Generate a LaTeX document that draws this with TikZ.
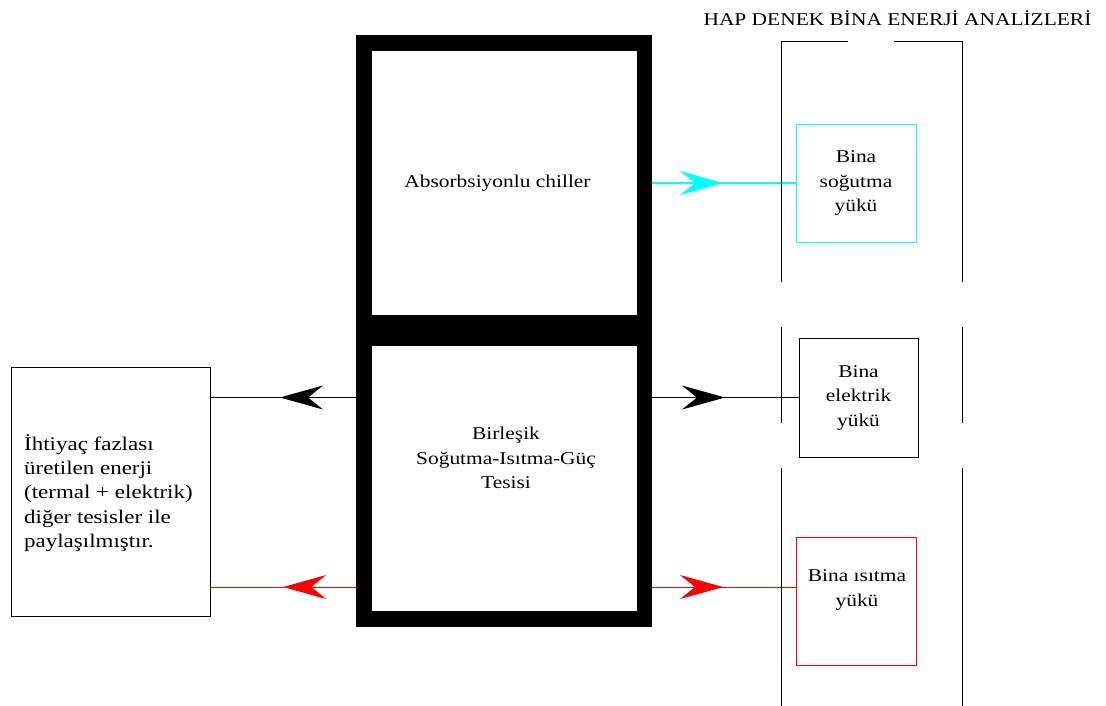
\documentclass[tikz,border=0pt]{standalone}
\usepackage{fontspec}
\setmainfont{Liberation Serif}[FakeStretch=1.19]
\usetikzlibrary{arrows.meta,decorations.markings,backgrounds}
\definecolor{aqua}{RGB}{0,255,255}
\definecolor{pure red}{RGB}{255,0,0}
\begin{document}
\begin{tikzpicture}[x=1pt,y=-1pt,
  txt/.style={font=\fontsize{18}{24.5}\selectfont, inner sep=0pt, align=center},
  bigtxt/.style={font=\fontsize{19.3}{24.3}\selectfont, inner sep=0pt, align=left},
  frame/.style={draw=black, line width=15.5pt, inner sep=0pt, minimum width=280.5pt},
  load/.style={draw=#1, line width=0.9pt, inner sep=0pt, minimum width=120pt},
  flow/.style={draw=#1, line width=1pt},
  tipat/.style={postaction={decorate}, decoration={markings, mark=at position #1 with {\arrow{Stealth[length=43pt,width=24pt,inset=15pt]}}}},
  dashline/.style={line width=1pt}
]
\useasboundingbox (0,0) rectangle (1106,706);
% central plant
\node[frame, minimum height=280pt] (chiller) at (504.25,183) {};
\node[frame, minimum height=280.5pt] (plant) at (504.25,478.75) {};
\node[txt] (chillertxt) at (497.5,183) {Absorbsiyonlu chiller};
\node[txt] (planttxt) at (506,458) {Birleşik\\Soğutma-Isıtma-Güç\\Tesisi};
% loads
\node[load=aqua, minimum height=118pt, txt] (cool) at (856,183) {Bina\\soğutma\\yükü};
\node[load=black, minimum width=119pt, minimum height=119pt, txt] (elec) at (858.5,397.5) {Bina\\elektrik\\yükü};
\node[load=pure red, minimum height=128pt] (heat) at (856,601) {};
\node[txt] (heattxt) at (857,590) {Bina ısıtma\\yükü};
% shared energy box
\node[load=black, minimum width=199pt, minimum height=249pt] (share) at (110.5,491.5) {};
\node[bigtxt, anchor=west] (sharetxt) at (24,493) {İhtiyaç fazlası\\üretilen enerji\\(termal + elektrik)\\diğer tesisler ile\\paylaşılmıştır.};
% title
\node[txt] (title) at (897.5,18) {HAP DENEK BİNA ENERJİ ANALİZLERİ};
% dashed analysis frame
\draw[dashline] (781,282) -- (781,42) -- (848,42);
\draw[dashline] (894,42) -- (962,42) -- (962,282);
\draw[dashline] (781,327) -- (781,423);
\draw[dashline] (962,327) -- (962,423);
\draw[dashline] (781,468) -- (781,706);
\draw[dashline] (962,468) -- (962,706);
% flows
\begin{scope}[on background layer]
\coordinate (heatlvl) at (0,587);
\draw[flow=aqua, line width=1.4pt, tipat=70.75pt] (chiller.east) -- (cool.west);
\draw[flow=black, tipat=76.25pt] (plant.west |- elec.west) -- (share.east |- elec.west);
\draw[flow=black, tipat=72.75pt] (plant.east |- elec.west) -- (elec.west);
\draw[flow=pure red, tipat=73pt] (plant.west |- heatlvl) -- (share.east |- heatlvl);
\draw[flow=pure red, tipat=70.75pt] (plant.east |- heatlvl) -- (heat.west |- heatlvl);
\end{scope}
\end{tikzpicture}
\end{document}
